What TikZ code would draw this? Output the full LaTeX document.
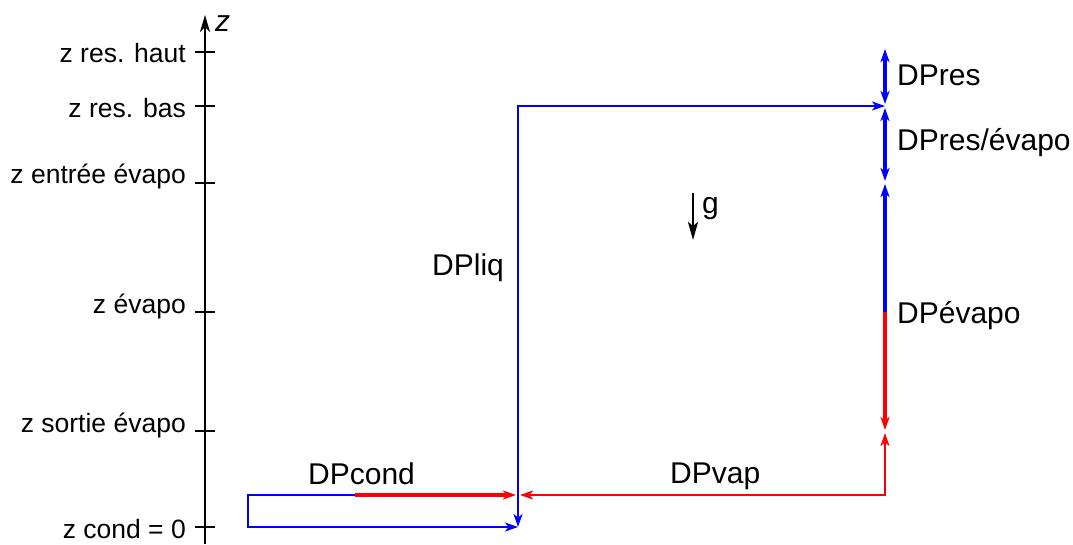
\documentclass[tikz,border=0pt]{standalone}
\usepackage{fontspec}
\setmainfont{Liberation Sans}
\usetikzlibrary{arrows.meta}
\begin{document}
\begin{tikzpicture}[x=1pt,y=-1pt,
  thinl/.style={line width=2pt},
  thickl/.style={line width=3.6pt},
  ah/.tip={Stealth[length=13pt,width=9pt,inset=3.5pt]},
  tip/.style={-ah},
  lab/.style={inner sep=0pt,font=\fontsize{26.5}{30}\selectfont,anchor=base east},
  dlab/.style={inner sep=0pt,font=\fontsize{30}{34}\selectfont,anchor=base west},
  tick/.style={line width=1.5pt}]
\useasboundingbox (0,0) rectangle (1073,544);
% axis
\coordinate (ax0) at (205,544);
\coordinate (ax1) at (205,15);
\draw[line width=2pt,-{Stealth[length=17pt,width=10pt,inset=5pt]}] (ax0) -- (ax1);
\node[inner sep=0pt,anchor=base west,font=\fontsize{30}{34}\selectfont\itshape] (zlab) at (215,31) {z};
% ticks and labels
\foreach \y/\ly/\t [count=\i] in {52/62/{z res. haut},106/117/{z res. bas},183/183/{z entrée évapo},312/313/{z évapo},431/432/{z sortie évapo},527/538/{z cond = 0}}{
  \draw[tick] (195,\y) -- (215,\y);
  \node[lab] (t\i) at (186,\ly) {\t};
}
% coordinates
\coordinate (A) at (885,106);
\coordinate (B) at (518,106);
\coordinate (C) at (518,527);
\coordinate (D) at (248,527);
\coordinate (E) at (248,495);
\coordinate (F) at (355,495);
\coordinate (G) at (516,495);
\coordinate (H) at (520,495);
\coordinate (I) at (885,495);
\coordinate (J) at (885,433);
\coordinate (K) at (885,430);
\coordinate (L) at (885,312);
\coordinate (M) at (885,184);
\coordinate (N) at (885,181);
\coordinate (P) at (885,108);
\coordinate (Q) at (885,104);
\coordinate (R) at (885,49);
% blue loop
\draw[blue,thinl,ah-ah] (C) -- (B) -- (A);
\draw[blue,thinl,tip] (F) -- (E) -- (D) -- (C);
\draw[red,thickl,tip] (F) -- (G);
\draw[red,thinl,ah-ah] (H) -- (I) -- (J);
\draw[red,thickl,tip] (L) -- (K);
\draw[blue,thickl,tip] (L) -- (M);
\draw[blue,thickl,ah-ah] (P) -- (N);
\draw[blue,thickl,ah-ah] (R) -- (Q);
% gravity
\coordinate (g0) at (693,193);
\coordinate (g1) at (693,240);
\draw[line width=2.5pt,-{Stealth[length=18pt,width=10pt,inset=4pt]}] (g0) -- (g1);
\node[dlab] (gl) at (702,213) {g};
% labels
\node[dlab] (dpres) at (897,85) {DPres};
\node[dlab] (dpresev) at (897,150) {DPres/évapo};
\node[dlab] (dpev) at (897,323) {DPévapo};
\node[dlab] (dpliq) at (432,275) {DPliq};
\node[dlab] (dpvap) at (670,483) {DPvap};
\node[dlab] (dpcond) at (308,484) {DPcond};
\end{tikzpicture}
\end{document}
